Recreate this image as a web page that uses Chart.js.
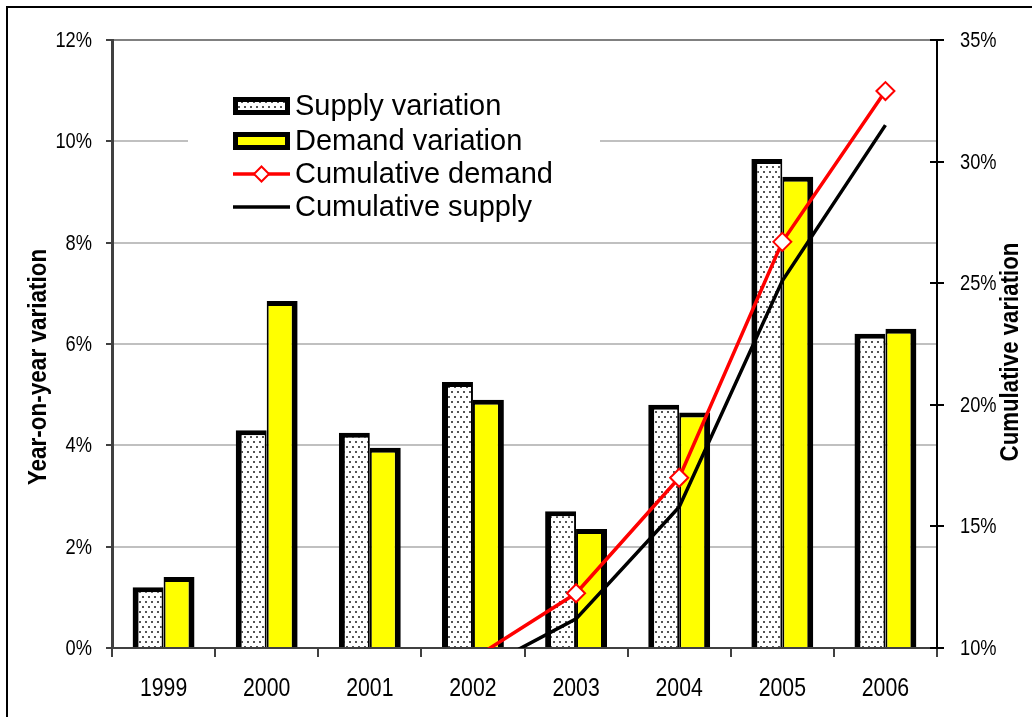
<!DOCTYPE html>
<html>
<head>
<meta charset="utf-8">
<script src="https://cdn.jsdelivr.net/npm/chart.js@4.4.1/dist/chart.umd.min.js"></script>
<style>
  html, body { margin: 0; padding: 0; background: #fff; }
  #wrap { position: relative; width: 1032px; height: 717px; overflow: hidden; }
  #frame { position: absolute; left: 6px; top: 6px; width: 1100px; height: 800px;
           border-left: 2px solid #000; border-top: 2px solid #000; }
  #chart { position: absolute; left: 0; top: 0; }
</style>
</head>
<body>
<div id="wrap">
  <div id="frame"></div>
  <canvas id="chart" width="1032" height="717"></canvas>
</div>
<script>
const years = ['1999', '2000', '2001', '2002', '2003', '2004', '2005', '2006'];
const supplyVar = [1.2, 4.3, 4.25, 5.25, 2.7, 4.8, 9.65, 6.2];
const demandVar = [1.4, 6.85, 3.95, 4.9, 2.35, 4.65, 9.3, 6.3];
// cumulative series are only visible from 2002/2003 on (below 10% is cut off)
const cumDemand = [null, null, null, 9.55, 12.25, 17.0, 26.7, 32.9];
const cumSupply = [null, null, null, 8.95, 11.2, 15.8, 25.1, 31.5];
const leftTicks = [0, 2, 4, 6, 8, 10, 12];
const rightTicks = [10, 15, 20, 25, 30, 35];

const leftTitle = 'Year-on-year variation';
const rightTitle = 'Cumulative variation';

const canvas = document.getElementById('chart');
const ctx = canvas.getContext('2d');

// white with staggered grey dots, like the supply bars
function dotPattern() {
    const c = document.createElement('canvas');
    c.width = 6; c.height = 10;
    const g = c.getContext('2d');
    g.fillStyle = '#fff';
    g.fillRect(0, 0, 6, 10);
    g.fillStyle = '#555';
    g.fillRect(1, 1, 2, 2);
    g.fillRect(4, 6, 2, 2);
    return ctx.createPattern(c, 'repeat');
}
const dots = dotPattern();

const regular = '"Liberation Sans", Arial, sans-serif';

// no narrow font installed, so squeeze the normal one horizontally
function squeezed(c, text, x, y, sx, align) {
    c.save();
    c.translate(x, y);
    c.scale(sx, 1);
    c.textAlign = align;
    c.fillText(text, 0, 0);
    c.restore();
}

// legend sits inside the plot, on a white box
const legendPlugin = {
    id: 'insideLegend',
    afterDatasetsDraw(chart) {
        const c = chart.ctx;
        c.save();
        c.fillStyle = '#fff';
        c.fillRect(188, 82, 412, 148);

        const x0 = 233, x1 = 290;
        const rows = [106, 141, 174, 207];

        // supply
        c.fillStyle = '#000';
        c.fillRect(x0, rows[0] - 9, x1 - x0, 18);
        c.fillStyle = dots;
        c.fillRect(x0 + 5, rows[0] - 4, x1 - x0 - 10, 8);
        // demand
        c.fillStyle = '#000';
        c.fillRect(x0, rows[1] - 9, x1 - x0, 18);
        c.fillStyle = '#ffff00';
        c.fillRect(x0 + 5, rows[1] - 4, x1 - x0 - 10, 8);
        // cumulative demand
        c.strokeStyle = '#ff0000';
        c.lineWidth = 3.5;
        c.beginPath(); c.moveTo(x0, rows[2]); c.lineTo(x1, rows[2]); c.stroke();
        const mx = (x0 + x1) / 2, r = 7.5;
        c.beginPath();
        c.moveTo(mx, rows[2] - r); c.lineTo(mx + r, rows[2]);
        c.lineTo(mx, rows[2] + r); c.lineTo(mx - r, rows[2]); c.closePath();
        c.fillStyle = '#fff'; c.fill();
        c.lineWidth = 2; c.stroke();
        // cumulative supply
        c.strokeStyle = '#000';
        c.lineWidth = 3.5;
        c.beginPath(); c.moveTo(x0, rows[3]); c.lineTo(x1, rows[3]); c.stroke();

        c.fillStyle = '#000';
        c.font = '29px ' + regular;
        c.textAlign = 'left';
        c.textBaseline = 'middle';
        const labels = ['Supply variation', 'Demand variation', 'Cumulative demand', 'Cumulative supply'];
        labels.forEach((t, i) => c.fillText(t, 295, rows[i] + 1));
        c.restore();
    }
};

// tick labels, rotated axis titles (both read bottom to top) and the inner half of the right ticks
const axisExtras = {
    id: 'axisExtras',
    afterDraw(chart) {
        const c = chart.ctx;
        const xs = chart.scales.x, yl = chart.scales.y, yr = chart.scales.y2;
        c.save();
        c.strokeStyle = '#000';
        c.lineWidth = 2;
        rightTicks.forEach(v => {
            const y = Math.round(yr.getPixelForValue(v));
            c.beginPath(); c.moveTo(yr.left - 7, y); c.lineTo(yr.left, y); c.stroke();
        });

        c.fillStyle = '#000';
        c.textBaseline = 'middle';
        c.font = '22px ' + regular;
        leftTicks.forEach(v => {
            squeezed(c, v + '%', yl.right - 20, yl.getPixelForValue(v) + 1, 0.83, 'right');
        });
        rightTicks.forEach(v => {
            squeezed(c, v + '%', yr.left + 23, yr.getPixelForValue(v) + 1, 0.83, 'left');
        });
        c.font = '25px ' + regular;
        years.forEach((t, i) => {
            squeezed(c, t, xs.getPixelForTick(i), 689, 0.85, 'center');
        });

        c.font = 'bold 25px ' + regular;
        c.textAlign = 'center';
        c.save();
        c.translate(39, 367);
        c.rotate(-Math.PI / 2);
        c.scale(0.9, 1);
        c.fillText(leftTitle, 0, 0);
        c.restore();
        c.save();
        c.translate(1011, 352);
        c.rotate(-Math.PI / 2);
        c.scale(0.89, 1);
        c.fillText(rightTitle, 0, 0);
        c.restore();
        c.restore();
    }
};

const hidden = 'rgba(0,0,0,0)';

new Chart(canvas, {
    data: {
        labels: years,
        datasets: [
            {
                type: 'line',
                label: 'Cumulative demand',
                data: cumDemand,
                yAxisID: 'y2',
                borderColor: '#ff0000',
                borderWidth: 3.5,
                pointStyle: 'rectRot',
                pointRadius: 9,
                pointBorderWidth: 2,
                pointBackgroundColor: '#fff',
                pointBorderColor: '#ff0000',
                tension: 0,
                order: 1
            },
            {
                type: 'line',
                label: 'Cumulative supply',
                data: cumSupply,
                yAxisID: 'y2',
                borderColor: '#000',
                borderWidth: 3.5,
                pointRadius: 0,
                tension: 0,
                order: 2
            },
            {
                type: 'bar',
                label: 'Supply variation',
                data: supplyVar,
                yAxisID: 'y',
                backgroundColor: dots,
                borderColor: '#000',
                borderWidth: { top: 5, left: 6, right: 2, bottom: 0 },
                borderSkipped: 'start',
                categoryPercentage: 0.6,
                barPercentage: 1.0,
                order: 3
            },
            {
                type: 'bar',
                label: 'Demand variation',
                data: demandVar,
                yAxisID: 'y',
                backgroundColor: '#ffff00',
                borderColor: '#000',
                borderWidth: { top: 5, left: 2, right: 6, bottom: 0 },
                borderSkipped: 'start',
                categoryPercentage: 0.6,
                barPercentage: 1.0,
                order: 3
            }
        ]
    },
    options: {
        responsive: false,
        animation: false,
        devicePixelRatio: 1,
        layout: { padding: { top: 40, left: 0, right: 0, bottom: 0 } },
        plugins: {
            legend: { display: false },
            tooltip: { enabled: false }
        },
        scales: {
            x: {
                afterFit: s => { s.height = 69; },
                grid: {
                    drawOnChartArea: false,
                    tickLength: 9,
                    tickColor: '#404040',
                    lineWidth: 2
                },
                border: { color: '#404040', width: 2 },
                ticks: { color: hidden, padding: 14, font: { size: 22 } }
            },
            y: {
                position: 'left',
                min: 0,
                max: 12,
                afterFit: s => { s.width = 112; },
                afterBuildTicks: s => { s.ticks = leftTicks.map(v => ({ value: v })); },
                grid: {
                    color: ctx => ctx.tick && ctx.tick.value === 12 ? '#808080' : '#c0c0c0',
                    lineWidth: 2,
                    tickLength: 6,
                    tickColor: '#404040'
                },
                border: { color: '#404040', width: 3 },
                ticks: { color: hidden, padding: 14, font: { size: 18 }, callback: v => v + '%' }
            },
            y2: {
                position: 'right',
                min: 10,
                max: 35,
                afterFit: s => { s.width = 95; },
                afterBuildTicks: s => { s.ticks = rightTicks.map(v => ({ value: v })); },
                grid: {
                    drawOnChartArea: false,
                    tickLength: 7,
                    tickColor: '#000',
                    lineWidth: 2
                },
                border: { color: '#000', width: 2 },
                ticks: { color: hidden, padding: 14, font: { size: 18 }, callback: v => v + '%' }
            }
        }
    },
    plugins: [legendPlugin, axisExtras]
});
</script>
</body>
</html>
